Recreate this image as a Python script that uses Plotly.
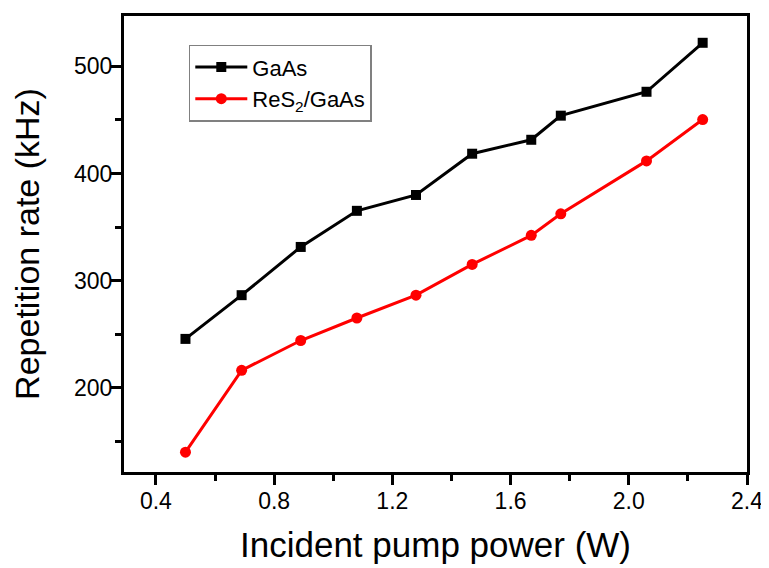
import plotly.graph_objects as go

# pump power (W) and repetition rate (kHz)
power = [0.5, 0.69, 0.89, 1.08, 1.28, 1.47, 1.67, 1.77, 2.06, 2.25]
rate_gaas = [245.7, 286.5, 331.5, 365.2, 380, 418.5, 431.5, 454, 476.3, 522]
rate_res2 = [140, 216.4, 244.2, 265.2, 286.5, 315.2, 342.3, 362.4, 411.8, 450.4]

x_ticks = [0.4, 0.8, 1.2, 1.6, 2.0, 2.4]
x_ticklabels = ["0.4", "0.8", "1.2", "1.6", "2.0", "2.4"]
y_ticks = [200, 300, 400, 500]

font = "Arial, Liberation Sans, sans-serif"

fig = go.Figure()
fig.add_trace(go.Scatter(
    x=power, y=rate_gaas, name="GaAs", mode="lines+markers",
    line=dict(color="black", width=3),
    marker=dict(symbol="square", size=10, color="black")))
fig.add_trace(go.Scatter(
    x=power, y=rate_res2, name="ReS<sub>2</sub>/GaAs", mode="lines+markers",
    line=dict(color="red", width=3),
    marker=dict(symbol="circle", size=11, color="red")))

axis_common = dict(
    showgrid=False, zeroline=False,
    showline=True, linecolor="black", linewidth=3, mirror=True,
    ticks="outside", ticklen=10, tickwidth=2.5, tickcolor="black",
    tickfont=dict(family=font, size=23, color="black"),
)

fig.update_xaxes(
    range=[0.292, 2.4], tickvals=x_ticks, ticktext=x_ticklabels,
    minor=dict(dtick=0.2, ticks="outside", ticklen=6, tickwidth=2.5, tickcolor="black"),
    ticklabelstandoff=-4,
    title=dict(text="Incident pump power (W)", font=dict(family=font, size=35, color="black"), standoff=20),
    **axis_common)
fig.update_yaxes(
    range=[121.5, 547], tickvals=y_ticks,
    minor=dict(dtick=50, ticks="outside", ticklen=6, tickwidth=2.5, tickcolor="black"),
    ticklabelstandoff=-6,
    title=dict(text="Repetition rate (kHz)", font=dict(family=font, size=34, color="black"), standoff=28),
    **axis_common)

fig.update_layout(
    width=769, height=568,
    margin=dict(l=116, r=30, t=5, b=104),
    plot_bgcolor="white", paper_bgcolor="white",
    legend=dict(
        x=0.104, y=0.937, xanchor="left", yanchor="top",
        bordercolor="#808080", borderwidth=1.5, bgcolor="white",
        font=dict(family=font, size=22, color="black"),
        itemwidth=52,
    ),
)

fig.write_html("out.html")
